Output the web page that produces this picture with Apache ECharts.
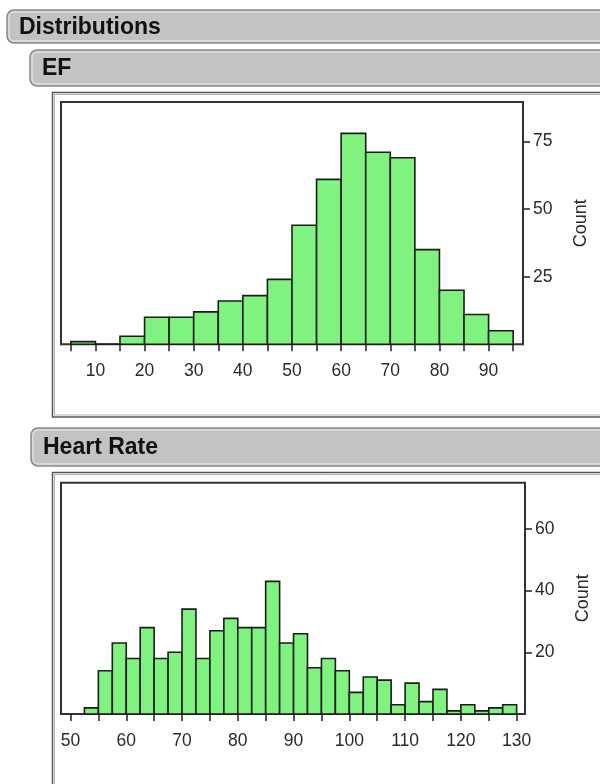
<!DOCTYPE html>
<html>
<head>
<meta charset="utf-8">
<script src="https://cdn.jsdelivr.net/npm/echarts@6/dist/echarts.min.js"></script>
<style>
html,body{margin:0;padding:0;background:#fff;}
#chart{width:600px;height:784px;}
</style>
</head>
<body>
<div id="chart"></div>
<script>
// ---- Data ----
var efBinStarts = [5,10,15,20,25,30,35,40,45,50,55,60,65,70,75,80,85,90];
var efCounts    = [1,0,3,10,10,12,16,18,24,44,61,78,71,69,35,20,11,5];
var efBinWidth  = 5;
var efXTicks    = [5,10,15,20,25,30,35,40,45,50,55,60,65,70,75,80,85,90,95];
var efXLabels   = [10,20,30,40,50,60,70,80,90];
var efYTicks    = [25,50,75];

var hrBinStarts = [52.5,55,57.5,60,62.5,65,67.5,70,72.5,75,77.5,80,82.5,85,87.5,90,92.5,95,97.5,100,102.5,105,107.5,110,112.5,115,117.5,120,122.5,125,127.5];
var hrCounts    = [2,14,23,18,28,18,20,34,18,27,31,28,28,43,23,26,15,18,14,7,12,11,3,10,4,8,1,3,1,2,3];
var hrBinWidth  = 2.5;
var hrXTicks    = [50,55,60,65,70,75,80,85,90,95,100,105,110,115,120,125,130];
var hrXLabels   = [50,60,70,80,90,100,110,120,130];
var hrYTicks    = [20,40,60];

var titles = ['Distributions','EF','Heart Rate'];
var yName = 'Count';

// ---- Build ----
function binData(starts, counts, w){
  return starts.map(function(s,i){ return [s, s+w, counts[i]]; });
}
function renderBar(params, api){
  var p0 = api.coord([api.value(0), api.value(2)]);
  var p1 = api.coord([api.value(1), 0]);
  return {
    type:'rect',
    shape:{x:p0[0], y:p0[1], width:p1[0]-p0[0], height:p1[1]-p0[1]},
    style:{fill:'#80f280', stroke:'#1c1c1c', lineWidth:1.6}
  };
}
var labelFont = {fontFamily:'Liberation Sans', fontSize:17.5, color:'#2a2a2a'};

function xAxis(gi, min, max, ticks, labels){
  return {
    type:'value', gridIndex:gi, min:min, max:max,
    splitLine:{show:false},
    axisLine:{show:false},
    axisTick:{show:true, inside:false, length:7, customValues:ticks, lineStyle:{color:'#222', width:1.5}},
    axisLabel:Object.assign({show:true, margin:18, customValues:labels}, labelFont)
  };
}
function yAxis(gi, max, ticks){
  return {
    type:'value', gridIndex:gi, position:'right', min:0, max:max,
    splitLine:{show:false},
    axisLine:{show:false},
    axisTick:{show:true, inside:false, length:7, customValues:ticks, lineStyle:{color:'#222', width:1.5}},
    axisLabel:Object.assign({show:true, margin:10, customValues:ticks}, labelFont),
    name:yName, nameLocation:'middle', nameRotate:90, nameGap:49, nameMoveOverlap:false,
    nameTextStyle:{fontFamily:'Liberation Sans', fontSize:18, color:'#2a2a2a'}
  };
}

function header(x, y, h, text){
  return [
    {type:'rect', shape:{x:x, y:y, width:700, height:h, r:7}, style:{fill:'#c3c3c3', stroke:'#8a8a8a', lineWidth:1.5}, z:1},
    {type:'rect', shape:{x:x+2, y:y+2, width:700, height:h-4, r:5}, style:{fill:'none', stroke:'#ececec', lineWidth:1}, z:2},
    {type:'text', x:x+12, y:y+h/2+1, style:{text:text, font:'bold 23px "Liberation Sans"', fill:'#111', verticalAlign:'middle'}, z:3}
  ];
}
function frame(x, y, h){
  return [
    {type:'rect', shape:{x:x, y:y, width:700, height:h}, style:{fill:'none', stroke:'#555', lineWidth:1.5}, z:1},
    {type:'rect', shape:{x:x+2, y:y+2, width:700, height:h-4}, style:{fill:'none', stroke:'#b0b0b0', lineWidth:1}, z:1}
  ];
}

var graphics = [].concat(
  header(7, 10, 33, titles[0]),
  header(30, 50, 36, titles[1]),
  frame(52.5, 92.5, 324.5),
  header(31, 428, 38, titles[2]),
  frame(52.5, 472.5, 400)
);

var option = {
  animation:false,
  backgroundColor:'#fff',
  graphic:graphics,
  grid:[
    {left:61, top:102, right:77, height:242.3, show:true, borderColor:'#333', borderWidth:2, backgroundColor:'#fff', containLabel:false},
    {left:61, top:482.7, right:74.7, height:231.3, show:true, borderColor:'#333', borderWidth:2, backgroundColor:'#fff', containLabel:false}
  ],
  xAxis:[ xAxis(0, 3, 97, efXTicks, efXLabels), xAxis(1, 48.3, 131.5, hrXTicks, hrXLabels) ],
  yAxis:[ yAxis(0, 89.6, efYTicks), yAxis(1, 75, hrYTicks) ],
  series:[
    {type:'custom', xAxisIndex:0, yAxisIndex:0, renderItem:renderBar, data:binData(efBinStarts, efCounts, efBinWidth), encode:{x:[0,1], y:2}},
    {type:'custom', xAxisIndex:1, yAxisIndex:1, renderItem:renderBar, data:binData(hrBinStarts, hrCounts, hrBinWidth), encode:{x:[0,1], y:2}}
  ]
};
var chart = echarts.init(document.getElementById('chart'), null, {renderer:'canvas'});
chart.setOption(option);
</script>
</body>
</html>
